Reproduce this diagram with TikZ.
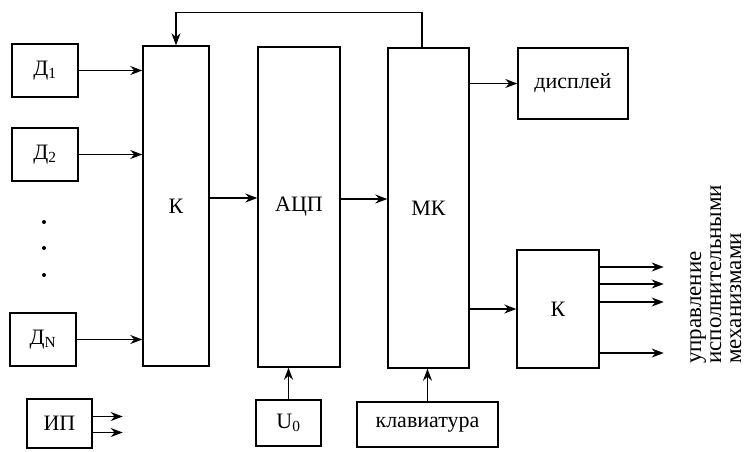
\documentclass[tikz,border=0pt]{standalone}
\usepackage{fontspec}
\setmainfont{Liberation Serif}
\usepackage{tikz}
\usetikzlibrary{positioning,arrows.meta,calc}

\begin{document}
\begin{tikzpicture}[
  x=1pt, y=-1pt,
  font=\fontsize{22}{24}\selectfont,
  block/.style={
    rectangle, draw=black, line width=1.4pt, inner sep=0pt,
    align=center, fill=white
  },
  sensor/.style={block, minimum width=66pt, minimum height=53pt},
  column/.style={block, minimum height=320pt},
  link/.style={-{Stealth[length=12pt, width=9pt]}, line width=1.4pt}
]
\useasboundingbox (0,0) rectangle (752,451);

\node[sensor] (D1) at (45,70.5) {Д\textsubscript{1}};
\node[sensor] (D2) at (45,154.5) {Д\textsubscript{2}};
\node[sensor] (DN) at (43,339.5) {Д\textsubscript{N}};
\node[block, minimum width=65pt, minimum height=49pt] (IP) at (59.5,423.5) {ИП};

\fill (44,222) circle (2);
\fill (44,248) circle (2);
\fill (44,275) circle (2);

\node[column, minimum width=66pt] (K1) at (176,206) {К};
\node[column, minimum width=82pt] (ADC) at (299,207) {АЦП};
\node[column, minimum width=81pt] (MK) at (428.5,208) {МК};

\node[block, minimum width=110pt, minimum height=71pt] (disp) at (573,83.5) {дисплей};
\node[block, minimum width=82pt, minimum height=118pt] (K2) at (558,309) {К};

\node[block, minimum width=65pt, minimum height=46pt] (U0) at (288.5,423) {U\textsubscript{0}};
\node[block, minimum width=141pt, minimum height=45pt] (kbd) at (427.5,424.5) {клавиатура};

\node[rotate=90, anchor=north west, align=left, inner sep=0pt,
      font=\fontsize{23}{20}\selectfont] (out) at (690,364)
  {управление\\исполнительными\\механизмами};

\draw[link] (D1.east) -- (D1.east -| K1.west);
\draw[link] (D2.east) -- (D2.east -| K1.west);
\draw[link] (DN.east) -- (DN.east -| K1.west);

\draw[link] ([yshift=7pt]IP.east) -- ++(30,0);
\draw[link] ([yshift=-9pt]IP.east) -- ++(30,0);

\draw[link] ([yshift=8pt]K1.east) -- ([yshift=8pt]K1.east -| ADC.west);
\draw[link] ([yshift=8pt]ADC.east) -- ([yshift=8pt]ADC.east -| MK.west);

\draw[link] (disp.west -| MK.east) -- (disp.west);
\draw[link] (K2.west -| MK.east) -- (K2.west);

\draw[link] ([xshift=-6.5pt]MK.north) -- ++(0,-35) -| (K1.north);

\draw[link] (U0.north) -- (U0.north |- ADC.south);
\draw[link] (kbd.north) -- (kbd.north |- MK.south);

\foreach \dy in {42,25,7,-44}
  \draw[link] ([yshift=\dy pt]K2.east) -- ++(64,0);

\end{tikzpicture}
\end{document}
